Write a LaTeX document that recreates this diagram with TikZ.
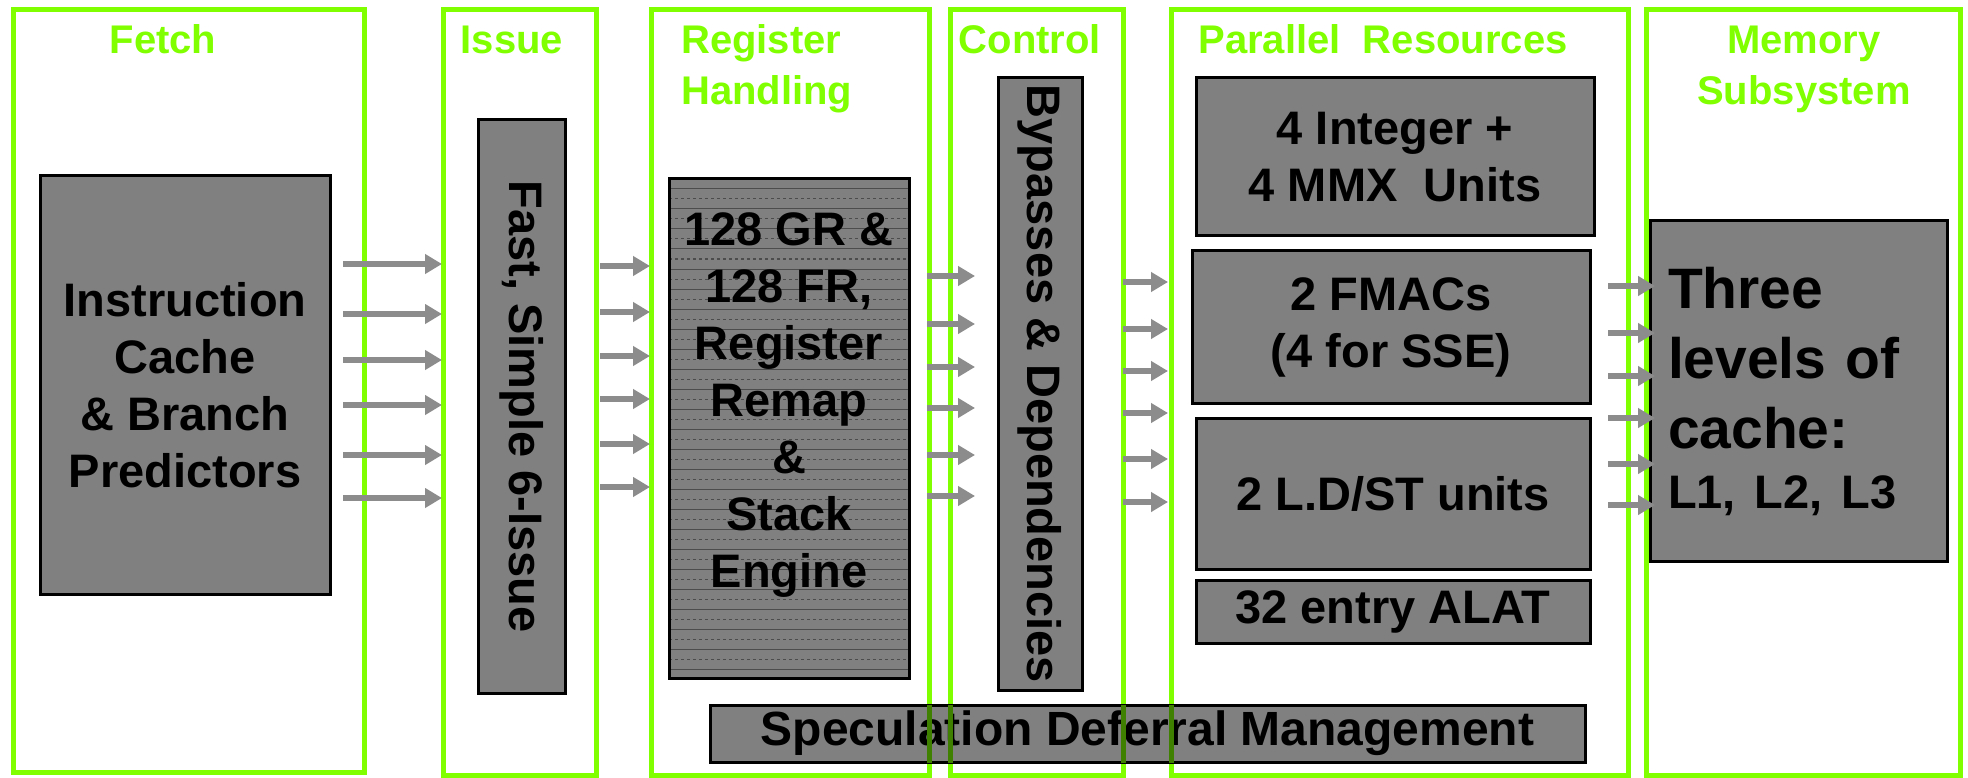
\documentclass[tikz,border=0pt]{standalone}
\usepackage{fontspec}
\setmainfont{Liberation Sans}
\usetikzlibrary{arrows.meta, positioning}
\definecolor{lime}{HTML}{80FF00}
\definecolor{unitgray}{HTML}{808080}
\definecolor{arrowgray}{HTML}{8C8C8C}
\newcommand{\stagefont}{\fontsize{40}{51}\selectfont\bfseries}
\newcommand{\unitfont}{\fontsize{47}{57}\selectfont\bfseries}
\newcommand{\cachefont}{\fontsize{57}{70}\selectfont\bfseries}

\begin{document}
\begin{tikzpicture}[x=1pt, y=-1pt,
    stage/.style={draw=lime, line width=5pt, inner sep=0pt, outer sep=0pt},
    stagelabel/.style={text=lime, font=\stagefont, inner sep=0pt, anchor=base},
    unit/.style={draw=black, line width=3pt, fill=unitgray, inner sep=0pt,
        outer sep=0pt, font=\unitfont, align=center},
    flow/.style={draw=arrowgray, line width=6.5pt, -{Triangle[length=17pt, width=19pt]}},
    crossline/.style={draw=lime!50!black, line width=5pt}]
    \useasboundingbox (0,0) rectangle (1968,778);

    % Stage frames
    \node[stage, minimum width=351, minimum height=762] (fetchframe) at (188.5,391) {};
    \node[stage, minimum width=153, minimum height=765] (issueframe) at (519.5,392.5) {};
    \node[stage, minimum width=278, minimum height=765] (regframe) at (790,392.5) {};
    \node[stage, minimum width=173, minimum height=765] (ctrlframe) at (1036.5,392.5) {};
    \node[stage, minimum width=457, minimum height=765] (parframe) at (1399.5,392.5) {};
    \node[stage, minimum width=314, minimum height=765] (memframe) at (1803,392.5) {};

    % Stage labels (two-line ones sit on their last baseline)
    \node[stagelabel] (fetchlbl) at (163,54) {Fetch};
    \node[stagelabel] (issuelbl) at (512,54) {Issue};
    \node[stagelabel, align=left, anchor=base west] (reglbl) at (681,105) {Register\\Handling};
    \node[stagelabel] (ctrllbl) at (1030,54) {Control};
    \node[stagelabel] (parlbl) at (1383,54) {Parallel\ \ Resources};
    \node[stagelabel, align=center] (memlbl) at (1804,105) {Memory\\Subsystem};

    % Units
    \node[unit, minimum width=290, minimum height=418] (icache) at (185,385)
        {Instruction\\Cache\\\& Branch\\Predictors};
    \node[unit, rotate=-90, minimum width=573, minimum height=87] (fastissue) at (521.5,406.5)
        {Fast, Simple 6-Issue};
    \node[unit, minimum width=240, minimum height=499, text depth=56pt,
        path picture={
            \foreach \k in {1,...,50} {
                \ifodd\k
                    \draw[black!70, line width=1pt] ([yshift=-\k*10pt]path picture bounding box.north west) -- ([yshift=-\k*10pt]path picture bounding box.north east);
                \else
                    \draw[black!70, line width=1pt, dashed] ([yshift=-\k*10pt]path picture bounding box.north west) -- ([yshift=-\k*10pt]path picture bounding box.north east);
                \fi
            }}] (regfile) at (789,428.5)
        {128 GR \&\\128 FR,\\Register\\Remap\\\&\\Stack\\Engine};
    \node[unit, rotate=-90, minimum width=612, minimum height=84] (bypass) at (1040,384)
        {Bypasses \& Dependencies};
    \node[unit, minimum width=398, minimum height=158] (intunits) at (1395,157) {4 Integer +\\4 MMX\ \ Units};
    \node[unit, minimum width=398, minimum height=152] (fmacs) at (1391,327) {2 FMACs\\(4 for SSE)};
    \node[unit, minimum width=394, minimum height=151] (ldst) at (1393,494) {2 L.D/ST units};
    \node[unit, minimum width=394, minimum height=63] (alat) at (1393,612) {32 entry ALAT};
    \node[unit, minimum width=875, minimum height=57, font=\fontsize{48}{57}\selectfont\bfseries]
        (specmgmt) at (1147.5,733.5) {Speculation Deferral Management};
    \node[unit, minimum width=297, minimum height=340, text width=261, inner xsep=18pt,
        align=left, font=\cachefont] (caches) at (1798.5,391)
        {Three\\levels of\\cache:\\[-10pt]{\unitfont L1, L2, L3}};

    % Frame lines seen through the speculation box
    \begin{scope}
        \clip (specmgmt.north west) rectangle (specmgmt.south east);
        \draw[crossline] (regframe.north east) -- (regframe.south east);
        \draw[crossline] (ctrlframe.north west) -- (ctrlframe.south west);
        \draw[crossline] (ctrlframe.north east) -- (ctrlframe.south east);
        \draw[crossline] (parframe.north west) -- (parframe.south west);
    \end{scope}

    % Fetch to Issue
    \foreach \y [count=\i] in {264,314,360,405,455,498} {
        \coordinate (fetchout\i) at (343,\y);
        \coordinate (issuein\i) at (442,\y);
        \draw[flow] (fetchout\i) -- (issuein\i);
    }
    % Issue to Register Handling
    \foreach \y [count=\i] in {266,312,356,399,444,487} {
        \coordinate (issueout\i) at (600,\y);
        \coordinate (regin\i) at (650,\y);
        \draw[flow] (issueout\i) -- (regin\i);
    }
    % Register Handling to Control
    \foreach \y [count=\i] in {276,324,367,408,455,496} {
        \coordinate (regout\i) at (927,\y);
        \coordinate (ctrlin\i) at (975,\y);
        \draw[flow] (regout\i) -- (ctrlin\i);
    }
    % Control to Parallel Resources
    \foreach \y [count=\i] in {282,329,371,413,459,502} {
        \coordinate (ctrlout\i) at (1123,\y);
        \coordinate (parin\i) at (1168,\y);
        \draw[flow] (ctrlout\i) -- (parin\i);
    }
    % Parallel Resources to Memory Subsystem
    \foreach \y [count=\i] in {286,333,376,418,464,505} {
        \coordinate (parout\i) at (1608,\y);
        \coordinate (memin\i) at (1655,\y);
        \draw[flow] (parout\i) -- (memin\i);
    }
\end{tikzpicture}
\end{document}
